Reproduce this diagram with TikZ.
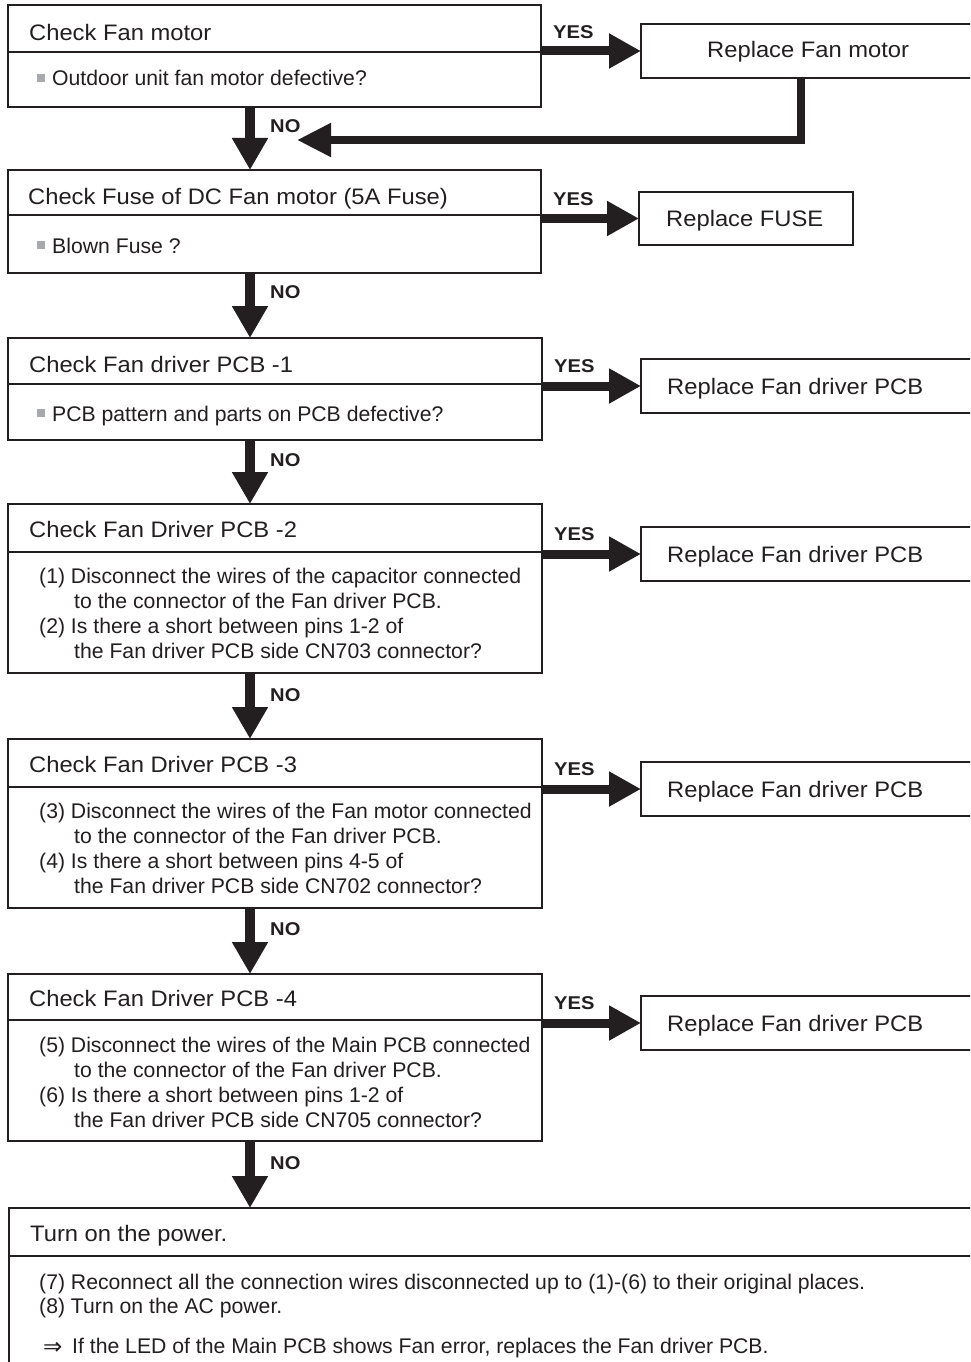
\documentclass[tikz,border=0pt]{standalone}
\usepackage{fontspec}
\newfontfamily\titlefam[FakeStretch=1.06]{Liberation Sans}
\newfontfamily\bodyfam{Liberation Sans}
\newfontfamily\lblfam[FakeStretch=1.09]{Liberation Sans}
\newfontfamily\djv{DejaVu Sans}
\usetikzlibrary{arrows.meta}
\definecolor{ink}{HTML}{231F20}
\definecolor{bulletgray}{HTML}{A7A9AC}
\begin{document}
\begin{tikzpicture}[x=1pt,y=-1pt,
 box/.style={draw=ink, line width=1.8pt, rectangle, inner sep=0pt, outer sep=0pt, anchor=north west},
 ttl/.style={anchor=base west, inner sep=0pt, font=\titlefam\fontsize{22.4}{26}\selectfont, text=ink},
 bdy/.style={anchor=base west, inner sep=0pt, font=\bodyfam\fontsize{21.2}{25}\selectfont, text=ink},
 lbl/.style={anchor=base west, inner sep=0pt, font=\lblfam\bfseries\fontsize{18.5}{22}\selectfont, text=ink},
 divider/.style={draw=ink, line width=1.8pt},
 yesarr/.style={draw=ink, line width=9pt, -{Triangle[length=32pt,width=33pt]}},
 noarr/.style={draw=ink, line width=10pt, -{Triangle[length=32pt,width=34pt]}},
 retarr/.style={draw=ink, line width=8pt, line join=miter, -{Triangle[length=34pt,width=32pt]}},
 sq/.style={fill=bulletgray, draw=none, minimum size=8pt, inner sep=0pt, anchor=north west}
]
\clip (0,0) rectangle (970,1362);
\fill[white] (0,0) rectangle (970,1362);

% ---- left column boxes
\node[box, minimum width=533pt, minimum height=102pt] (b1) at (8,5) {};
\node[box, minimum width=533pt, minimum height=103pt] (b2) at (8,170) {};
\node[box, minimum width=534pt, minimum height=102pt] (b3) at (8,338) {};
\node[box, minimum width=534pt, minimum height=169pt] (b4) at (8,504) {};
\node[box, minimum width=534pt, minimum height=169pt] (b5) at (8,739) {};
\node[box, minimum width=534pt, minimum height=167pt] (b6) at (8,974) {};
\node[box, minimum width=975pt, minimum height=170pt] (b7) at (9,1208) {};

% dividers
\coordinate (d1) at (8,52);   \draw[divider] (d1) -- (d1 -| b1.east);
\coordinate (d2) at (8,215);  \draw[divider] (d2) -- (d2 -| b2.east);
\coordinate (d3) at (8,384);  \draw[divider] (d3) -- (d3 -| b3.east);
\coordinate (d4) at (8,552);  \draw[divider] (d4) -- (d4 -| b4.east);
\coordinate (d5) at (8,787);  \draw[divider] (d5) -- (d5 -| b5.east);
\coordinate (d6) at (8,1020); \draw[divider] (d6) -- (d6 -| b6.east);
\coordinate (d7) at (9,1256); \draw[divider] (d7) -- (d7 -| b7.east);

% ---- replace boxes
\node[box, minimum width=340pt, minimum height=54pt] (r1) at (641,24) {};
\node[box, minimum width=214pt, minimum height=53pt] (r2) at (639,192) {};
\node[box, minimum width=340pt, minimum height=54pt] (r3) at (641,359) {};
\node[box, minimum width=340pt, minimum height=54pt] (r4) at (641,527) {};
\node[box, minimum width=340pt, minimum height=54pt] (r5) at (641,762) {};
\node[box, minimum width=340pt, minimum height=54pt] (r6) at (641,996) {};

% ---- texts box 1
\node[ttl] (t1) at (29,41) {Check Fan motor};
\node[sq] (s1) at (37,74) {};
\node[bdy] (x1) at (52,86) {Outdoor unit fan motor defective?};
% box 2
\node[ttl] (t2) at (28,204) {Check Fuse of DC Fan motor (5A Fuse)};
\node[sq] (s2) at (37,241) {};
\node[bdy] (x2) at (52,253) {Blown Fuse ?};
% box 3
\node[ttl] (t3) at (29,372) {Check Fan driver PCB -1};
\node[sq] (s3) at (37,409) {};
\node[bdy] (x3) at (52,421) {PCB pattern and parts on PCB defective?};
% box 4
\node[ttl] (t4) at (29,537) {Check Fan Driver PCB -2};
\node[bdy] (x4a) at (39,583) {(1) Disconnect the wires of the capacitor connected};
\node[bdy] (x4b) at (74,608) {to the connector of the Fan driver PCB.};
\node[bdy] (x4c) at (39,633) {(2) Is there a short between pins 1-2 of};
\node[bdy] (x4d) at (74,658) {the Fan driver PCB side CN703 connector?};
% box 5
\node[ttl] (t5) at (29,772) {Check Fan Driver PCB -3};
\node[bdy] (x5a) at (39,818) {(3) Disconnect the wires of the Fan motor connected};
\node[bdy] (x5b) at (74,843) {to the connector of the Fan driver PCB.};
\node[bdy] (x5c) at (39,868) {(4) Is there a short between pins 4-5 of};
\node[bdy] (x5d) at (74,893) {the Fan driver PCB side CN702 connector?};
% box 6
\node[ttl] (t6) at (29,1006) {Check Fan Driver PCB -4};
\node[bdy] (x6a) at (39,1052) {(5) Disconnect the wires of the Main PCB connected};
\node[bdy] (x6b) at (74,1077) {to the connector of the Fan driver PCB.};
\node[bdy] (x6c) at (39,1102) {(6) Is there a short between pins 1-2 of};
\node[bdy] (x6d) at (74,1127) {the Fan driver PCB side CN705 connector?};
% box 7
\node[ttl] (t7) at (30,1241) {Turn on the power.};
\node[bdy] (x7a) at (39,1289) {(7) Reconnect all the connection wires disconnected up to (1)-(6) to their original places.};
\node[bdy] (x7b) at (39,1313) {(8) Turn on the AC power.};
\node[anchor=base west, inner sep=0pt, text=ink, font=\djv\fontsize{23}{26}\selectfont] (ar7) at (43,1354) {⇒};
\node[bdy] (x7c) at (72,1353) {If the LED of the Main PCB shows Fan error, replaces the Fan driver PCB.};

% replace texts
\node[ttl] (rt1) at (707,58) {Replace Fan motor};
\node[ttl] (rt2) at (666,226) {Replace FUSE};
\node[ttl] (rt3) at (667,394) {Replace Fan driver PCB};
\node[ttl] (rt4) at (667,562) {Replace Fan driver PCB};
\node[ttl] (rt5) at (667,797) {Replace Fan driver PCB};
\node[ttl] (rt6) at (667,1031) {Replace Fan driver PCB};

% ---- YES arrows
\draw[yesarr] (b1.east |- r1.west) -- (r1.west);
\draw[yesarr] (b2.east |- r2.west) -- (r2.west);
\draw[yesarr] (b3.east |- r3.west) -- (r3.west);
\draw[yesarr] (b4.east |- r4.west) -- (r4.west);
\draw[yesarr] (b5.east |- r5.west) -- (r5.west);
\draw[yesarr] (b6.east |- r6.west) -- (r6.west);
\node[lbl] (y1) at (553,39) {YES};
\node[lbl] (y2) at (553,205) {YES};
\node[lbl] (y3) at (554,372) {YES};
\node[lbl] (y4) at (554,540) {YES};
\node[lbl] (y5) at (554,775) {YES};
\node[lbl] (y6) at (554,1009) {YES};

% ---- NO arrows
\draw[noarr] ([xshift=242pt]b1.south west) -- ([xshift=242pt]b2.north west);
\draw[noarr] ([xshift=242pt]b2.south west) -- ([xshift=242pt]b3.north west);
\draw[noarr] ([xshift=242pt]b3.south west) -- ([xshift=242pt]b4.north west);
\draw[noarr] ([xshift=242pt]b4.south west) -- ([xshift=242pt]b5.north west);
\draw[noarr] ([xshift=242pt]b5.south west) -- ([xshift=242pt]b6.north west);
\draw[noarr] ([xshift=242pt]b6.south west) -- ([xshift=241pt]b7.north west);
\node[lbl] (n1) at (270,132) {NO};
\node[lbl] (n2) at (270,298) {NO};
\node[lbl] (n3) at (270,466) {NO};
\node[lbl] (n4) at (270,701) {NO};
\node[lbl] (n5) at (270,935) {NO};
\node[lbl] (n6) at (270,1169) {NO};

% ---- return arrow from Replace Fan motor
\coordinate (j1) at (297,140);
\draw[retarr] ([xshift=160pt]r1.south west) |- (j1);
\end{tikzpicture}
\end{document}
